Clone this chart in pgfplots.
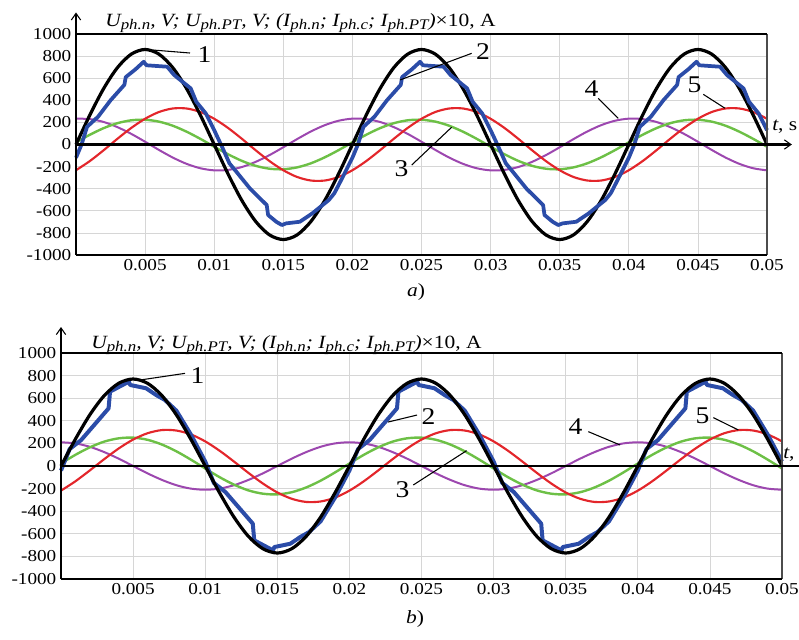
\documentclass[border=0pt]{standalone}
\usepackage{fontspec}
\setmainfont[FakeStretch=1.15]{Liberation Serif}
\usepackage{pgfplots}
\usepackage{pgfplotstable}
\pgfplotsset{compat=1.18}
\usetikzlibrary{arrows.meta}

\definecolor{WaveBlue}{HTML}{2B4CA8}
\definecolor{WaveRed}{HTML}{E3262B}
\definecolor{WaveGreen}{HTML}{6DC046}
\definecolor{WavePurple}{HTML}{9C47AF}
\definecolor{GridGray}{HTML}{D6D6D6}

\newcommand{\sub}[1]{\raisebox{-0.35ex}{\fontsize{11}{11}\selectfont\textit{#1}}}
\newcommand{\ylab}{\textit{U\sub{ph.n}, V; U\sub{ph.PT}, V; (I\sub{ph.n}; I\sub{ph.c}; I\sub{ph.PT})}×10, A}

% t, then a) black green red purple, then b) black green red purple
\pgfplotstableread{
t ka ga ra pa kb gb rb pb
0.000 0 20 -233 234 0 22 -218 210
0.001 266 88 -150 230 238 99 -135 200
0.002 506 148 -52 204 453 165 -39 170
0.003 696 193 52 157 623 216 61 123
0.004 818 219 150 96 732 245 155 65
0.005 860 224 233 25 770 251 234 0
0.006 818 207 294 -49 732 232 290 -65
0.007 696 170 326 -118 623 190 318 -123
0.008 506 116 326 -175 453 130 314 -170
0.009 266 51 294 -215 238 57 280 -200
0.010 0 -20 233 -234 0 -22 218 -210
0.011 -266 -88 150 -230 -238 -99 135 -200
0.012 -506 -148 52 -204 -453 -165 39 -170
0.013 -696 -193 -52 -157 -623 -216 -61 -123
0.014 -818 -219 -150 -96 -732 -245 -155 -65
0.015 -860 -224 -233 -25 -770 -251 -234 0
0.016 -818 -207 -294 49 -732 -232 -290 65
0.017 -696 -170 -326 118 -623 -190 -318 123
0.018 -506 -116 -326 175 -453 -130 -314 170
0.019 -266 -51 -294 215 -238 -57 -280 200
0.020 0 20 -233 234 0 22 -218 210
0.021 266 88 -150 230 238 99 -135 200
0.022 506 148 -52 204 453 165 -39 170
0.023 696 193 52 157 623 216 61 123
0.024 818 219 150 96 732 245 155 65
0.025 860 224 233 25 770 251 234 0
0.026 818 207 294 -49 732 232 290 -65
0.027 696 170 326 -118 623 190 318 -123
0.028 506 116 326 -175 453 130 314 -170
0.029 266 51 294 -215 238 57 280 -200
0.030 0 -20 233 -234 0 -22 218 -210
0.031 -266 -88 150 -230 -238 -99 135 -200
0.032 -506 -148 52 -204 -453 -165 39 -170
0.033 -696 -193 -52 -157 -623 -216 -61 -123
0.034 -818 -219 -150 -96 -732 -245 -155 -65
0.035 -860 -224 -233 -25 -770 -251 -234 0
0.036 -818 -207 -294 49 -732 -232 -290 65
0.037 -696 -170 -326 118 -623 -190 -318 123
0.038 -506 -116 -326 175 -453 -130 -314 170
0.039 -266 -51 -294 215 -238 -57 -280 200
0.040 0 20 -233 234 0 22 -218 210
0.041 266 88 -150 230 238 99 -135 200
0.042 506 148 -52 204 453 165 -39 170
0.043 696 193 52 157 623 216 61 123
0.044 818 219 150 96 732 245 155 65
0.045 860 224 233 25 770 251 234 0
0.046 818 207 294 -49 732 232 290 -65
0.047 696 170 326 -118 623 190 318 -123
0.048 506 116 326 -175 453 130 314 -170
0.049 266 51 294 -215 238 57 280 -200
0.050 0 -20 233 -234 0 -22 218 -210
}\waves

\pgfplotstableread{
t v
0.0000 -120
0.0004 0
0.0008 160
0.0016 252
0.0025 400
0.0035 540
0.0036 610
0.0043 680
0.0049 749
0.0051 717
0.0066 704
0.0071 629
0.0083 508
0.0087 387
0.0094 280
0.0100 130
0.0106 -30
0.0111 -170
0.0116 -246
0.0126 -400
0.0138 -548
0.0139 -638
0.0145 -700
0.0149 -729
0.0152 -714
0.0162 -699
0.0171 -623
0.0183 -502
0.0187 -440
0.0194 -270
0.0200 -120
0.0204 0
0.0208 160
0.0216 252
0.0225 400
0.0235 540
0.0236 610
0.0243 680
0.0249 749
0.0251 717
0.0266 704
0.0271 629
0.0283 508
0.0287 387
0.0294 280
0.0300 130
0.0306 -30
0.0311 -170
0.0316 -246
0.0326 -400
0.0338 -548
0.0339 -638
0.0345 -700
0.0349 -729
0.0352 -714
0.0362 -699
0.0371 -623
0.0383 -502
0.0387 -440
0.0394 -270
0.0400 -120
0.0404 0
0.0408 160
0.0416 252
0.0425 400
0.0435 540
0.0436 610
0.0443 680
0.0449 749
0.0451 717
0.0466 704
0.0471 629
0.0483 508
0.0487 387
0.0494 280
0.0500 130
}\blueA

\pgfplotstableread{
t v
0.0000 -40
0.0006 150
0.0014 230
0.0033 510
0.0034 658
0.0047 746
0.0048 717
0.0059 688
0.0066 628
0.0072 585
0.0080 490
0.0090 280
0.0100 40
0.0106 -150
0.0114 -230
0.0133 -510
0.0134 -658
0.0147 -746
0.0148 -717
0.0159 -688
0.0166 -628
0.0172 -585
0.0180 -490
0.0190 -280
0.0200 -40
0.0206 150
0.0214 230
0.0233 510
0.0234 658
0.0247 746
0.0248 717
0.0259 688
0.0266 628
0.0272 585
0.0280 490
0.0290 280
0.0300 40
0.0306 -150
0.0314 -230
0.0333 -510
0.0334 -658
0.0347 -746
0.0348 -717
0.0359 -688
0.0366 -628
0.0372 -585
0.0380 -490
0.0390 -280
0.0400 -40
0.0406 150
0.0414 230
0.0433 510
0.0434 658
0.0447 746
0.0448 717
0.0459 688
0.0466 628
0.0472 585
0.0480 490
0.0490 280
0.0500 40
}\blueB

\pgfplotsset{
  osc/.style={
    scale only axis, anchor=south west,
    xmin=0, xmax=0.05, ymin=-1000, ymax=1000, clip=false,
    axis line style={draw=none}, major tick length=0pt,
    xtick={0.005,0.01,0.015,0.02,0.025,0.03,0.035,0.04,0.045,0.05},
    xticklabels={0.005,0.01,0.015,0.02,0.025,0.03,0.035,0.04,0.045,0.05},
    ytick={-1000,-800,-600,-400,-200,0,200,400,600,800,1000},
    yticklabels={-1000,-800,-600,-400,-200,0,200,400,600,800,1000},
    scaled x ticks=false, grid=major,
    grid style={GridGray, line width=0.6pt},
    tick label style={font=\fontsize{12.5}{12.5}\selectfont},
  },
}
\tikzset{
  lead/.style={line width=0.8pt},
  num/.style={font=\fontsize{18}{18}\selectfont, inner sep=0pt},
  barb/.style={-{Straight Barb[length=5pt,width=7pt,line width=0.8pt]}},
}

\begin{document}
\begin{tikzpicture}
\useasboundingbox (0,0) rectangle (599.25pt,-479.25pt);

% panel a
\node[anchor=base west, inner sep=0pt, font=\fontsize{14}{14}\selectfont] at (78.75pt,-19.9pt) {\ylab};
\begin{axis}[osc, at={(57pt,-191.25pt)}, width=518.25pt, height=165.75pt]
  \addplot[WavePurple, line width=1.5pt, smooth] table[x=t, y=pa] {\waves};
  \addplot[WaveGreen, line width=1.8pt, smooth] table[x=t, y=ga] {\waves};
  \addplot[WaveRed, line width=1.6pt, smooth] table[x=t, y=ra] {\waves};
  \addplot[black, line width=2.4pt, smooth] table[x=t, y=ka] {\waves};
  \addplot[WaveBlue, line width=2.8pt, line join=round] table[x=t, y=v] {\blueA};
  \draw[black!70, line width=1.1pt] (axis cs:0.05,-1000) -- (axis cs:0.05,1000);
  \draw[line width=1.1pt] (axis cs:0,1000) -- (axis cs:0.05,1000);
  \draw[line width=1.6pt] (axis cs:0,-1000) -- (axis cs:0.05,-1000);
  \draw[line width=1.6pt, barb] (axis cs:0,-1000) -- (axis cs:0,1195);
  \draw[line width=1.8pt, barb] (axis cs:0,0) -- (axis cs:0.0518,0);
  \draw[lead] (axis cs:0.00557,855) -- (axis cs:0.00825,828);
  \node[num] at (axis cs:0.0093,810) {1};
  \draw[lead] (axis cs:0.02344,584) -- (axis cs:0.02863,825);
  \node[num] at (axis cs:0.02945,842) {2};
  \draw[lead] (axis cs:0.02429,-186) -- (axis cs:0.02718,156);
  \node[num] at (axis cs:0.02355,-222) {3};
  \draw[lead] (axis cs:0.03779,418) -- (axis cs:0.03924,237);
  \node[num] at (axis cs:0.0373,507) {4};
  \draw[lead] (axis cs:0.04539,454) -- (axis cs:0.04696,328);
  \node[num] at (axis cs:0.04475,538) {5};
  \node[anchor=west, inner sep=0pt, font=\fontsize{14}{14}\selectfont] at (axis cs:0.05036,158) {\textit{t}, s};
\end{axis}
\node[font=\fontsize{14}{14}\selectfont] at (312pt,-219pt) {\textit{a})};

% panel b
\node[anchor=base west, inner sep=0pt, font=\fontsize{14}{14}\selectfont] at (68.25pt,-261pt) {\ylab};
\begin{axis}[osc, at={(45.75pt,-434.25pt)}, width=540.75pt, height=169.5pt]
  \addplot[WavePurple, line width=1.5pt, smooth] table[x=t, y=pb] {\waves};
  \addplot[WaveGreen, line width=1.8pt, smooth] table[x=t, y=gb] {\waves};
  \addplot[WaveRed, line width=1.6pt, smooth] table[x=t, y=rb] {\waves};
  \addplot[WaveBlue, line width=3pt, line join=round] table[x=t, y=v] {\blueB};
  \addplot[black, line width=2.4pt, smooth] table[x=t, y=kb] {\waves};
  \draw[black!70, line width=1.1pt] (axis cs:0.05,-1000) -- (axis cs:0.05,1000);
  \draw[line width=1.1pt] (axis cs:0,1000) -- (axis cs:0.05,1000);
  \draw[line width=1.6pt] (axis cs:0,-1000) -- (axis cs:0.05,-1000);
  \draw[line width=1.6pt, barb] (axis cs:0,-1000) -- (axis cs:0,1230);
  \draw[line width=1.8pt, barb] (axis cs:0,0) -- (axis cs:0.0525,0);
  \draw[lead] (axis cs:0.00548,761) -- (axis cs:0.0086,820);
  \node[num] at (axis cs:0.00947,801) {1};
  \draw[lead] (axis cs:0.02268,389) -- (axis cs:0.02469,451);
  \node[num] at (axis cs:0.02549,438) {2};
  \draw[lead] (axis cs:0.02443,-168) -- (axis cs:0.02813,136);
  \node[num] at (axis cs:0.02368,-212) {3};
  \draw[lead] (axis cs:0.03657,304) -- (axis cs:0.03877,186);
  \node[num] at (axis cs:0.03568,350) {4};
  \draw[lead] (axis cs:0.04524,428) -- (axis cs:0.04697,319);
  \node[num] at (axis cs:0.04449,442) {5};
  \node[anchor=west, inner sep=0pt, font=\fontsize{14}{14}\selectfont] at (axis cs:0.05007,97) {\textit{t}, s};
\end{axis}
\node[font=\fontsize{14}{14}\selectfont] at (311.25pt,-464.25pt) {\textit{b})};
\end{tikzpicture}
\end{document}
